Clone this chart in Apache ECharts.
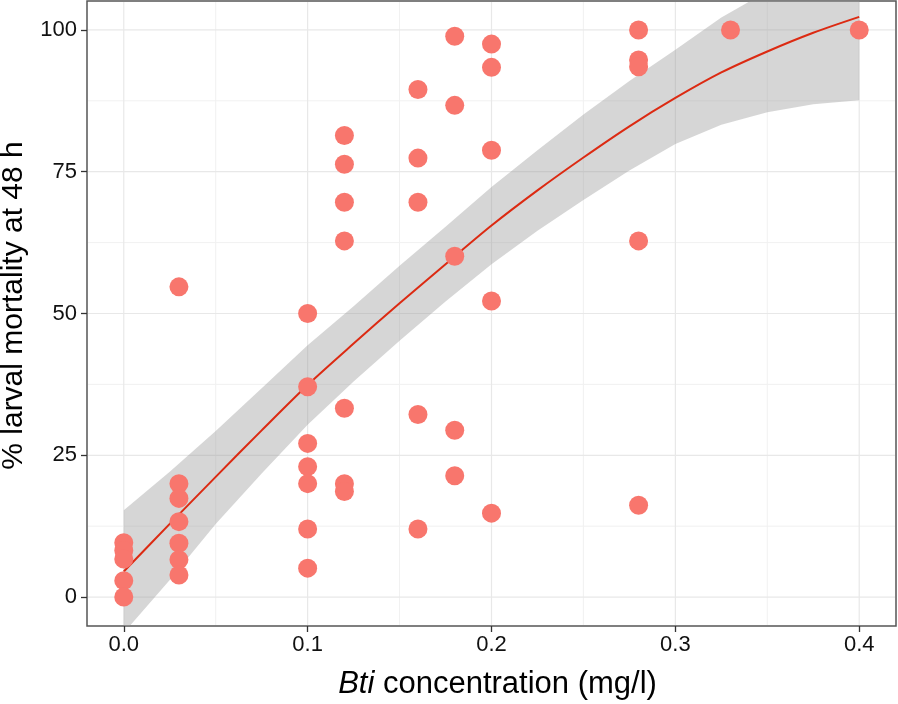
<!DOCTYPE html>
<html><head><meta charset="utf-8">
<script src="https://cdn.jsdelivr.net/npm/echarts@6/dist/echarts.min.js"></script>
<style>html,body{margin:0;padding:0;background:#fff}#c{width:898px;height:704px}</style>
</head><body><div id="c"></div>
<script>
// Observed points
const concentration = [
  0, 0, 0, 0, 0,
  0.03, 0.03, 0.03, 0.03, 0.03, 0.03, 0.03,
  0.1, 0.1, 0.1, 0.1, 0.1, 0.1, 0.1,
  0.12, 0.12, 0.12, 0.12, 0.12, 0.12, 0.12,
  0.16, 0.16, 0.16, 0.16, 0.16,
  0.18, 0.18, 0.18, 0.18, 0.18,
  0.2, 0.2, 0.2, 0.2, 0.2,
  0.28, 0.28, 0.28, 0.28, 0.28,
  0.33, 0.4
];
const mortality = [
  9.6, 8.2, 6.7, 2.9, 0,
  54.7, 20.0, 17.4, 13.3, 9.5, 6.6, 3.9,
  50.0, 37.1, 27.1, 23.0, 20.0, 12.0, 5.1,
  81.4, 76.3, 69.6, 62.8, 33.3, 20.0, 18.6,
  89.5, 77.4, 69.6, 32.2, 12.0,
  98.9, 86.7, 60.1, 29.4, 21.4,
  97.5, 93.4, 78.8, 52.2, 14.8,
  100, 94.7, 93.5, 62.8, 16.2,
  100, 100
];
// Fitted curve and confidence band
const fitX =      [0, 0.025, 0.05, 0.075, 0.1, 0.125, 0.15, 0.175, 0.2, 0.225, 0.25, 0.275, 0.3, 0.325, 0.35, 0.375, 0.4];
const fitY =      [4.5, 12.9, 21.2, 29.4, 37.4, 44.7, 51.8, 58.7, 65.5, 71.7, 77.5, 83.0, 88.0, 92.5, 96.2, 99.5, 102.3];
const bandUpper = [15.3, 22.1, 29.3, 36.8, 44.4, 51.3, 58.4, 65.3, 72.3, 78.8, 85.1, 91.0, 96.5, 102.2, 106.8, 111.5, 117.0];
const bandLower = [-6.3, 3.0, 12.9, 21.8, 30.4, 38.0, 45.2, 52.1, 58.7, 64.6, 70.0, 75.2, 79.9, 83.3, 85.5, 86.9, 87.6];
// Axis ticks
const xTicks = [0, 0.1, 0.2, 0.3, 0.4];
const xMinor = [0.05, 0.15, 0.25, 0.35];
const yTicks = [0, 25, 50, 75, 100];
const yMinor = [12.5, 37.5, 62.5, 87.5];

const FONT = '"Liberation Sans", Arial, Helvetica, sans-serif';
const chart = echarts.init(document.getElementById('c'), null, {renderer: 'canvas'});

function clipRect(cs) {
  return {type: 'rect', shape: {x: cs.x, y: cs.y, width: cs.width, height: cs.height}};
}

const option = {
  backgroundColor: '#ffffff',
  animation: false,
  grid: {
    left: 87, top: 1, width: 809, height: 625,
    show: true, borderColor: '#555555', borderWidth: 1.5, backgroundColor: '#ffffff',
    containLabel: false, outerBoundsMode: 'none'
  },
  xAxis: {
    type: 'value', min: -0.02, max: 0.42,
    axisLine: {show: false, onZero: false},
    axisTick: {show: true, customValues: xTicks, length: 6, lineStyle: {color: '#333', width: 1.3}},
    axisLabel: {customValues: xTicks, formatter: v => v.toFixed(1), fontSize: 22, color: '#111', fontFamily: FONT, margin: 8},
    splitLine: {show: false},
    name: '{i|Bti} concentration (mg/l)',
    nameLocation: 'middle', nameGap: 43,
    nameTextStyle: {fontSize: 31, color: '#000', fontFamily: FONT, padding: [0, 0, 0, 12],
      rich: {i: {fontStyle: 'italic', fontSize: 31, color: '#000', fontFamily: FONT}}}
  },
  yAxis: {
    type: 'value', min: -5.1, max: 105.1,
    axisLine: {show: false, onZero: false},
    axisTick: {show: true, customValues: yTicks, length: 6, lineStyle: {color: '#333', width: 1.3}},
    axisLabel: {customValues: yTicks, fontSize: 22, color: '#111', fontFamily: FONT, margin: 10},
    splitLine: {show: false},
    name: '% larval mortality at 48 h',
    nameLocation: 'middle', nameRotate: 90, nameGap: 58,
    nameTextStyle: {fontSize: 30, color: '#000', fontFamily: FONT, padding: [0, 0, 0, 16]}
  },
  series: [
    {
      type: 'custom', z: 1, silent: true, clip: true,
      data: [[0, 0]],
      renderItem: function (params, api) {
        const cs = params.coordSys;
        const children = [];
        const vline = (v, col, w) => {
          const p = api.coord([v, 0]);
          children.push({type: 'line', shape: {x1: p[0], y1: cs.y + 1, x2: p[0], y2: cs.y + cs.height - 1},
            style: {stroke: col, lineWidth: w}});
        };
        const hline = (v, col, w) => {
          const p = api.coord([0, v]);
          children.push({type: 'line', shape: {x1: cs.x + 1, y1: p[1], x2: cs.x + cs.width - 1, y2: p[1]},
            style: {stroke: col, lineWidth: w}});
        };
        xMinor.forEach(v => vline(v, '#f1f1f1', 1));
        yMinor.forEach(v => hline(v, '#f1f1f1', 1));
        xTicks.forEach(v => vline(v, '#e8e8e8', 1.2));
        yTicks.forEach(v => hline(v, '#e8e8e8', 1.2));
        return {type: 'group', children: children};
      }
    },
    {
      type: 'custom', z: 2, silent: true, clip: true,
      data: [[0, 0]],
      renderItem: function (params, api) {
        const cs = params.coordSys;
        const pts = [];
        for (let i = 0; i < fitX.length; i++) pts.push(api.coord([fitX[i], bandUpper[i]]));
        for (let i = fitX.length - 1; i >= 0; i--) pts.push(api.coord([fitX[i], bandLower[i]]));
        return {type: 'polygon', shape: {points: pts}, style: {fill: 'rgba(153,153,153,0.4)'},
          clipPath: clipRect(cs)};
      }
    },
    {
      type: 'line', z: 3, silent: true,
      data: fitX.map((x, i) => [x, fitY[i]]),
      showSymbol: false, smooth: 0.3,
      lineStyle: {color: '#dc2a12', width: 2}
    },
    {
      type: 'scatter', z: 4, silent: true,
      data: concentration.map((x, i) => [x, mortality[i]]),
      symbol: 'circle', symbolSize: 19,
      itemStyle: {color: '#F8766D', opacity: 1}
    }
  ]
};
chart.setOption(option);
</script>
</body></html>
